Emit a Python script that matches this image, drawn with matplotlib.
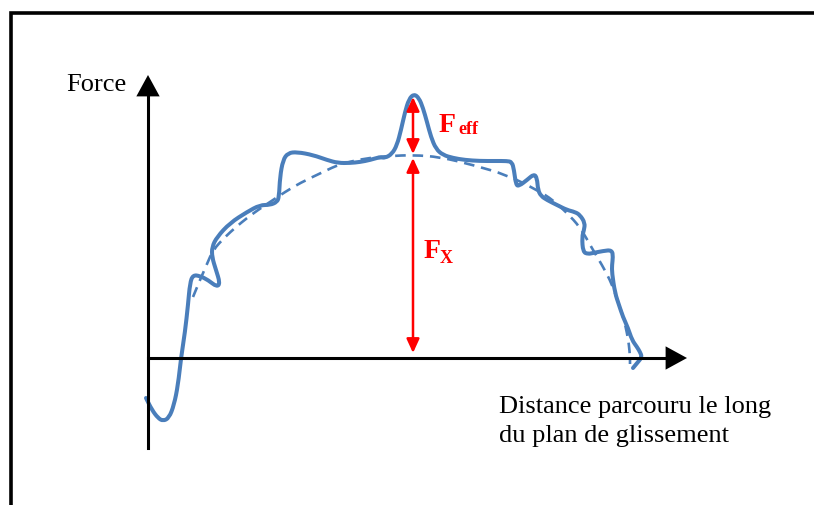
import matplotlib.pyplot as plt
from matplotlib.patches import FancyArrowPatch, PathPatch
from matplotlib.path import Path

# schematic drawn in picture units (x to the right, y downwards)
blue = '#4A7EBB'

# measured force curve (solid)
force_x = [146, 152, 158, 163, 169, 174, 178, 181, 185, 188, 190, 193, 200, 208, 217, 220, 216, 212, 212,
           217, 230, 247, 260, 270, 277, 279, 280, 283, 288, 297, 313, 327, 338, 350, 360, 370, 380, 385,
           392, 397, 401, 405, 409, 414, 419, 423, 427, 431, 436, 443, 453, 465, 480, 495, 507,
           512, 514, 516, 519, 527, 534, 537, 538, 541, 547, 557, 567, 575, 580, 585, 584, 582, 583, 588,
           593, 603, 612, 613, 612, 612, 615, 619, 623, 628, 632, 637, 640, 642, 638, 633]
force_y = [398, 410, 418, 421, 418, 405, 385, 358, 332, 305, 283, 275, 276, 280, 287, 283, 270, 257, 247,
           237, 223, 212, 205, 205, 202, 197, 177, 160, 153, 152, 155, 160, 163, 163, 162, 160, 157, 158,
           154, 145, 130, 112, 99, 94, 98, 108, 122, 137, 149, 155, 158, 160, 161, 161, 161,
           162, 170, 185, 186, 180, 174, 178, 190, 196, 200, 205, 210, 212, 215, 223, 230, 237, 252, 254,
           253, 251, 250, 257, 265, 273, 293, 305, 317, 328, 340, 347, 352, 357, 362, 368]

# smooth envelope (dashed)
trend_x = [193, 200, 207, 213, 225, 236, 247, 258, 270, 285, 300, 323, 340, 367, 390, 413, 440, 473, 507,
           537, 553, 567, 580, 593, 602, 610, 615, 620, 624, 627, 629, 630, 630]
trend_y = [297, 280, 264, 250, 237, 227, 218, 210, 202, 192, 183, 172, 164, 158, 156, 155, 157, 165, 175,
           190, 200, 213, 227, 250, 265, 280, 293, 307, 320, 333, 345, 357, 364]


def smooth_path(xs, ys):
    # quadratic bezier through the midpoints, the points act as control points
    pts = list(zip(xs, ys))
    verts = [pts[0]]
    codes = [Path.MOVETO]
    mid = ((pts[0][0] + pts[1][0]) / 2, (pts[0][1] + pts[1][1]) / 2)
    verts.append(mid)
    codes.append(Path.LINETO)
    for i in range(1, len(pts) - 1):
        nxt = ((pts[i][0] + pts[i + 1][0]) / 2, (pts[i][1] + pts[i + 1][1]) / 2)
        verts += [pts[i], nxt]
        codes += [Path.CURVE3, Path.CURVE3]
    verts.append(pts[-1])
    codes.append(Path.LINETO)
    return Path(verts, codes)


fig = plt.figure(figsize=(8.14, 5.05), dpi=100)
ax = fig.add_axes([0, 0, 1, 1])
ax.set_xlim(0, 814)
ax.set_ylim(505, 0)
ax.axis('off')

# outer frame
ax.plot([11, 11, 830], [520, 12.5, 12.5], color='black', lw=2.6, solid_joinstyle='miter')

# axes with arrow heads
ax.plot([148, 148], [448, 90], color='black', lw=2.2)
ax.plot([148, 672], [358, 358], color='black', lw=2.2)
ax.add_patch(FancyArrowPatch((148, 105), (148, 75), arrowstyle='-|>,head_length=11,head_width=6',
                             color='black', lw=0, mutation_scale=1.4, shrinkA=0, shrinkB=0))
ax.add_patch(FancyArrowPatch((660, 358), (687, 358), arrowstyle='-|>,head_length=11,head_width=6',
                             color='black', lw=0, mutation_scale=1.4, shrinkA=0, shrinkB=0))

# curves
ax.add_patch(PathPatch(smooth_path(trend_x, trend_y), fill=False, edgecolor=blue, lw=1.9,
                       linestyle=(0, (4, 2.6))))
ax.add_patch(PathPatch(smooth_path(force_x, force_y), fill=False, edgecolor=blue, lw=2.9,
                       capstyle='round', joinstyle='round'))

# red force arrows
for y0, y1 in [(97, 154), (158, 353)]:
    ax.add_patch(FancyArrowPatch((413, y0), (413, y1), arrowstyle='<|-|>,head_length=7,head_width=3.2',
                                 color='red', lw=1.8, mutation_scale=1.2, shrinkA=0, shrinkB=0))

serif = 'Liberation Serif'
ax.text(439, 132, 'F', color='red', fontsize=20, fontweight='bold', family=serif)
ax.text(458, 134, 'eff', color='red', fontsize=13, fontweight='bold', family=serif)
ax.text(424, 258, 'F', color='red', fontsize=20, fontweight='bold', family=serif)
ax.text(440, 263, 'X', color='red', fontsize=13, fontweight='bold', family=serif)

ax.text(66, 91, 'Force', fontsize=19, family=serif)
ax.text(499, 413, 'Distance parcouru le long', fontsize=19, family=serif)
ax.text(499, 442, 'du plan de glissement', fontsize=19, family=serif)

fig.savefig('out.png', dpi=100)
